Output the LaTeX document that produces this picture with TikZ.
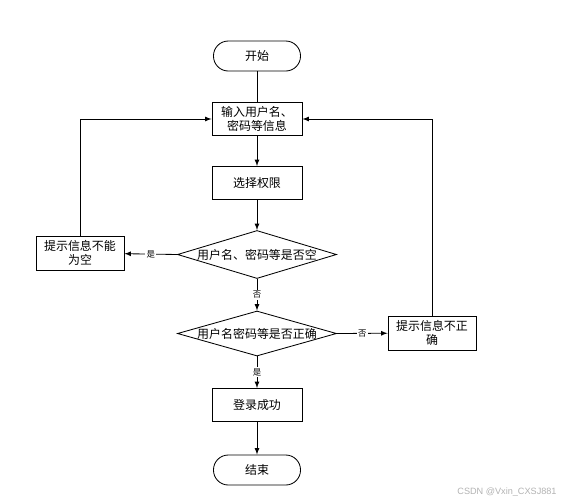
\documentclass[tikz,border=0pt]{standalone}
\usepackage{fontspec}
\newfontfamily\cjk{Noto Sans CJK SC}
\newfontfamily\wmfont{Liberation Sans}
\usetikzlibrary{arrows, shapes.geometric}

\begin{document}
\begin{tikzpicture}[>=latex, x=0.025cm, y=-0.025cm, line width=0.6pt,
  font=\cjk\fontsize{8.5}{10}\selectfont,
  term/.style={draw, rectangle, rounded corners=0.37cm, minimum width=2.175cm, minimum height=0.75cm},
  proc/.style={draw, rectangle, align=center, minimum width=2.25cm, minimum height=0.825cm, inner sep=1pt},
  msg/.style={draw, rectangle, align=center, text width=2.1cm, minimum width=2.2cm, minimum height=0.85cm, inner sep=1pt},
  cond/.style={draw, diamond, minimum width=3.975cm, minimum height=#1, inner sep=0pt},
  lbl/.style={fill=white, inner sep=1pt, font=\cjk\fontsize{6}{7}\selectfont}]
  \useasboundingbox (0,0) rectangle (568,502);

  \node[term] (start) at (257,56) {开始};
  \node[proc] (input) at (257,119) {输入用户名、\\密码等信息};
  \node[proc] (select) at (257,183) {选择权限};
  \node[cond=1.2cm, label=center:{用户名、密码等是否空}] (empty) at (257,254.5) {};
  \node[msg] (msgA) at (80,253) {提示信息不能\\为空};
  \node[cond=1.125cm, label=center:{用户名密码等是否正确}] (check) at (257,333.5) {};
  \node[msg] (msgB) at (432,333) {提示信息不正\\确};
  \node[proc] (ok) at (257,405) {登录成功};
  \node[term] (stop) at (257,470) {结束};

  \draw (start) -- (input);
  \draw[->] (input) -- (select);
  \draw[->] (select) -- (empty.north);
  \draw[->] (empty.west) -- node[lbl] {是} (msgA);
  \draw[->] (empty.south) -- node[lbl] {否} (check.north);
  \draw[->] (check.east) -- node[lbl] {否} (msgB);
  \draw[->] (check.south) -- node[lbl] {是} (ok);
  \draw[->] (ok) -- (stop);
  \draw[->] (msgA.north) |- (input.west);
  \draw[->] (msgB.north) |- (input.east);

  \node[gray!60, font=\wmfont\fontsize{6.5}{8}\selectfont] (mark) at (507,492) {CSDN @Vxin\_CXSJ881};
\end{tikzpicture}
\end{document}
